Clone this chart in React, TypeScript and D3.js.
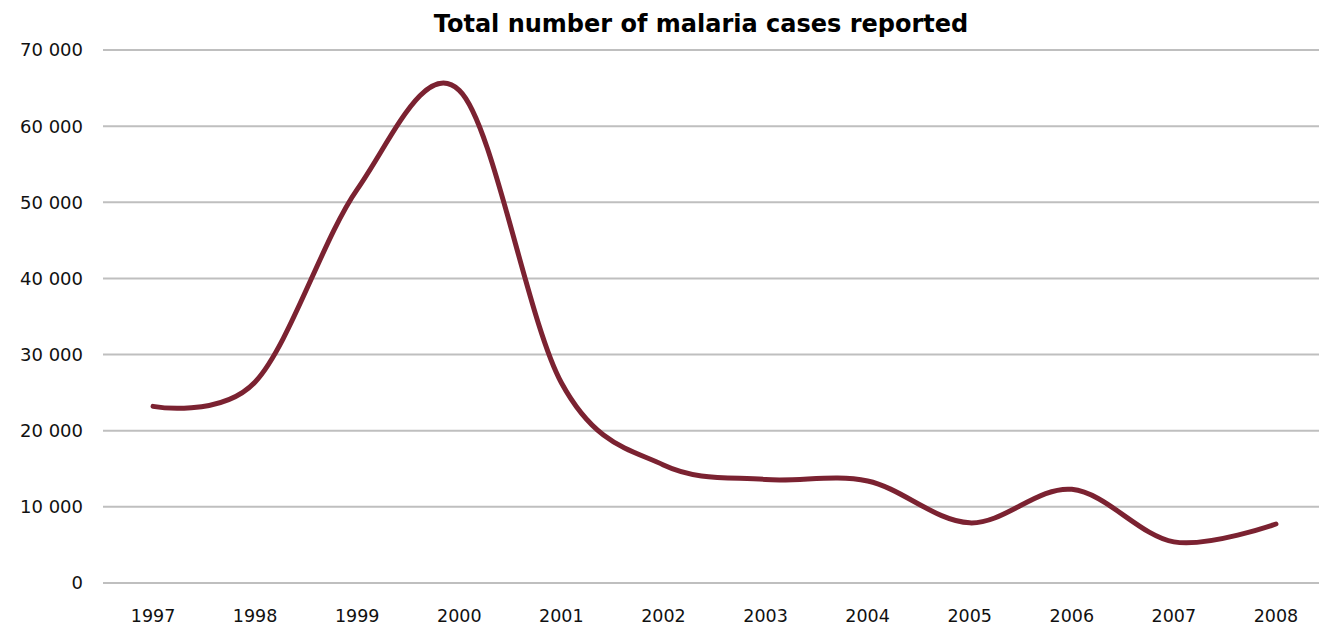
import React from "react";
import * as d3 from "d3";

// Reported malaria cases per year
const years: string[] = ["1997", "1998", "1999", "2000", "2001", "2002", "2003", "2004", "2005", "2006", "2007", "2008"];
const cases: number[] = [23200, 26400, 51700, 64700, 26300, 15500, 13600, 13400, 7900, 12300, 5400, 7750];
const yTicks: number[] = [0, 10000, 20000, 30000, 40000, 50000, 60000, 70000];

const W = 1319;
const H = 627;

const fmt = (v: number) => d3.format(",")(v).replace(/,/g, " ");

export default function App() {
  const x = d3.scaleBand<string>().domain(years).range([102, 1327]);
  const y = d3.scaleLinear().domain([0, 70000]).range([583, 50]);
  const cx = (d: string) => (x(d) as number) + x.bandwidth() / 2;

  const line = d3
    .line<number>()
    .x((_, i) => cx(years[i]))
    .y((d) => y(d))
    .curve(d3.curveCardinal.tension(0));

  const font = "'DejaVu Sans', Verdana, sans-serif";

  return (
    <svg
      width={W}
      height={H}
      style={{ position: "absolute", left: 0, top: 0, background: "#fff" }}
    >
      <text
        x={701}
        y={32}
        textAnchor="middle"
        fontFamily={font}
        fontWeight="bold"
        fontSize={24}
        fill="#000"
      >
        Total number of malaria cases reported
      </text>
      <g>
        {yTicks.map((t) => (
          <g key={t}>
            <line x1={103} x2={W} y1={y(t)} y2={y(t)} stroke="#bfbfbf" strokeWidth={2} />
            <text
              x={83}
              y={y(t)}
              dy="0.36em"
              textAnchor="end"
              fontFamily={font}
              fontSize={18}
              fill="#111"
            >
              {fmt(t)}
            </text>
          </g>
        ))}
      </g>
      <g>
        {years.map((yr) => (
          <text
            key={yr}
            x={cx(yr)}
            y={622}
            textAnchor="middle"
            fontFamily={font}
            fontSize={17.5}
            fill="#111"
          >
            {yr}
          </text>
        ))}
      </g>
      <path
        d={line(cases) as string}
        fill="none"
        stroke="#7b2231"
        strokeWidth={5}
        strokeLinecap="round"
        strokeLinejoin="round"
      />
    </svg>
  );
}
